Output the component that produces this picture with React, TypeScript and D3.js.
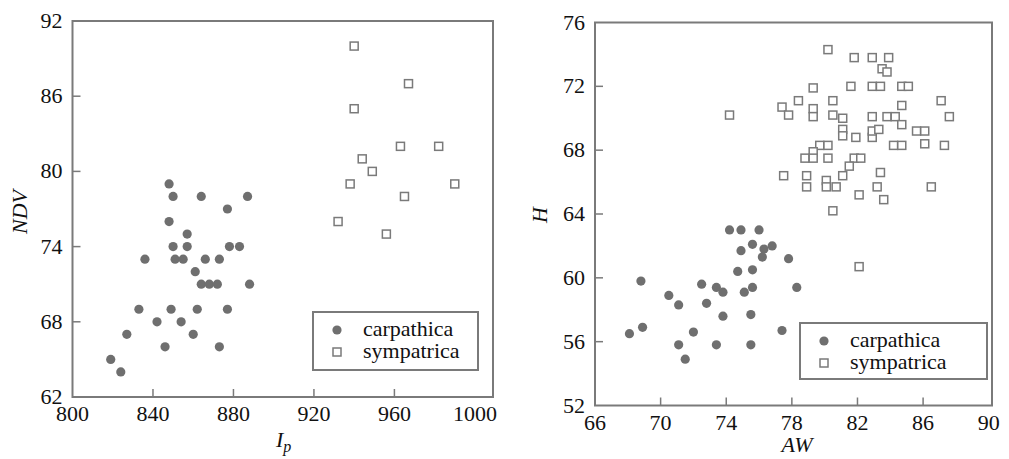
import React from 'react';
import * as d3 from 'd3';

// left panel: Ip vs NDV
const carpIp = [848, 850, 864, 887, 877, 848, 857, 850, 857, 878, 883, 836, 851, 855, 866, 873, 861, 864, 868, 872, 888, 833, 849, 862, 877, 842, 854, 827, 860, 846, 873, 819, 824];
const carpNDV = [79, 78, 78, 78, 77, 76, 75, 74, 74, 74, 74, 73, 73, 73, 73, 73, 72, 71, 71, 71, 71, 69, 69, 69, 69, 68, 68, 67, 67, 66, 66, 65, 64];
const sympIp = [940, 967, 940, 963, 982, 944, 949, 938, 990, 965, 932, 956];
const sympNDV = [90, 87, 85, 82, 82, 81, 80, 79, 79, 78, 76, 75];

// right panel: AW vs H
const carpAW = [74.2, 74.9, 76.0, 75.6, 76.8, 76.3, 74.9, 76.2, 77.8, 74.7, 75.6, 68.8, 70.5, 72.5, 73.4, 73.8, 75.1, 75.6, 78.3, 71.1, 72.8, 73.8, 75.5, 68.1, 68.9, 72.0, 77.4, 71.1, 73.4, 75.5, 71.5];
const carpH = [63.0, 63.0, 63.0, 62.1, 62.0, 61.8, 61.7, 61.3, 61.2, 60.4, 60.5, 59.8, 58.9, 59.6, 59.4, 59.1, 59.1, 59.4, 59.4, 58.3, 58.4, 57.6, 57.7, 56.5, 56.9, 56.6, 56.7, 55.8, 55.8, 55.8, 54.9];
const sympAW = [80.2, 81.8, 82.9, 83.9, 83.5, 83.8, 79.3, 81.6, 82.9, 83.4, 84.7, 85.1, 78.4, 80.5, 87.1, 77.4, 77.8, 74.2, 79.3, 79.3, 80.5, 81.1, 82.9, 83.8, 84.3, 84.7, 84.7, 87.6, 81.1, 81.1, 81.9, 82.9, 82.9, 83.3, 85.6, 86.1, 79.7, 80.2, 84.2, 84.7, 86.1, 87.3, 79.3, 78.8, 79.3, 80.2, 81.8, 82.2, 81.5, 81.1, 77.5, 78.9, 78.9, 80.1, 80.1, 80.7, 83.4, 83.2, 86.5, 82.1, 83.6, 80.5, 82.1];
const sympH = [74.3, 73.8, 73.8, 73.8, 73.1, 72.9, 71.9, 72.0, 72.0, 72.0, 72.0, 72.0, 71.1, 71.1, 71.1, 70.7, 70.2, 70.2, 70.6, 70.1, 70.2, 70.0, 70.1, 70.1, 70.1, 70.8, 69.6, 70.1, 69.3, 68.9, 68.8, 68.8, 69.2, 69.3, 69.2, 69.2, 68.3, 68.3, 68.3, 68.3, 68.4, 68.3, 67.9, 67.5, 67.5, 67.5, 67.5, 67.5, 67.0, 66.4, 66.4, 66.4, 65.7, 66.1, 65.7, 65.7, 66.6, 65.7, 65.7, 65.2, 64.9, 64.2, 60.7];

const ipTicks = [800, 840, 880, 920, 960, 1000];
const ndvTicks = [62, 68, 74, 80, 86, 92];
const awTicks = [66, 70, 74, 78, 82, 86, 90];
const hTicks = [52, 56, 60, 64, 68, 72, 76];
const legendLabels = ['carpathica', 'sympatrica'];

const FONT = "Liberation Serif, DejaVu Serif, serif";
const GRAY = '#7a7a7a';
const DOT = '#6f6f6f';

type PanelProps = {
  left: number; right: number; top: number; bottom: number;
  xDomain: [number, number]; yDomain: [number, number];
  xTicks: number[]; yTicks: number[];
  cx: number[]; cy: number[]; sx: number[]; sy: number[];
  legend: { x: number; y: number; w: number; h: number };
};

const Panel = (p: PanelProps) => {
  const x = d3.scaleLinear().domain(p.xDomain).range([p.left, p.right]);
  const y = d3.scaleLinear().domain(p.yDomain).range([p.bottom, p.top]);
  const L = p.legend;
  const ry = [L.y + 18, L.y + 40];
  return (
    <g>
      <rect x={p.left} y={p.top} width={p.right - p.left} height={p.bottom - p.top}
        fill="none" stroke={GRAY} strokeWidth={2} />
      {/* inward ticks */}
      {p.xTicks.slice(1, -1).map(t => (
        <line key={'xt' + t} x1={x(t)} x2={x(t)} y1={p.bottom} y2={p.bottom - 8} stroke={GRAY} strokeWidth={1.5} />
      ))}
      {p.yTicks.slice(1, -1).map(t => (
        <line key={'yt' + t} x1={p.left} x2={p.left + 8} y1={y(t)} y2={y(t)} stroke={GRAY} strokeWidth={1.5} />
      ))}
      {p.xTicks.map(t => (
        <text key={'xl' + t} x={x(t)} y={p.bottom + 24} textAnchor="middle" fontFamily={FONT} fontSize={22} fill="#111">{t}</text>
      ))}
      {p.yTicks.map(t => (
        <text key={'yl' + t} x={p.left - 10} y={y(t) + 7} textAnchor="end" fontFamily={FONT} fontSize={22} fill="#111">{t}</text>
      ))}
      {p.cx.map((v, i) => (
        <circle key={'c' + i} cx={x(v)} cy={y(p.cy[i])} r={4.6} fill={DOT} />
      ))}
      {p.sx.map((v, i) => (
        <rect key={'s' + i} x={x(v) - 4} y={y(p.sy[i]) - 4} width={8} height={8}
          fill="white" stroke={GRAY} strokeWidth={1.5} />
      ))}
      {/* legend */}
      <rect x={L.x} y={L.y} width={L.w} height={L.h} fill="white" stroke={GRAY} strokeWidth={2} />
      <circle cx={L.x + 24} cy={ry[0]} r={4.6} fill={DOT} />
      <rect x={L.x + 20} y={ry[1] - 4} width={8} height={8} fill="white" stroke={GRAY} strokeWidth={1.5} />
      {legendLabels.map((d, i) => (
        <text key={d} x={L.x + 50} y={ry[i] + 6}
          fontFamily={FONT} fontSize={22} fontStyle="normal" fontWeight={400} fill="#111">{d}</text>
      ))}
    </g>
  );
};

const App = () => (
  <svg width={1009} height={459} style={{ position: 'absolute', left: 0, top: 0, background: 'white' }}>
    <Panel left={72.5} right={493} top={21} bottom={397}
      xDomain={[800, 1009]} yDomain={[62, 92]} xTicks={ipTicks} yTicks={ndvTicks}
      cx={carpIp} cy={carpNDV} sx={sympIp} sy={sympNDV}
      legend={{ x: 313, y: 312, w: 165, h: 58 }} />
    <Panel left={595} right={992} top={22.5} bottom={405.5}
      xDomain={[66, 90.2]} yDomain={[52, 76]} xTicks={awTicks} yTicks={hTicks}
      cx={carpAW} cy={carpH} sx={sympAW} sy={sympH}
      legend={{ x: 800, y: 323, w: 187, h: 56 }} />
    {/* axis titles */}
    <text transform="translate(27,212) rotate(-90)" textAnchor="middle"
      fontFamily={FONT} fontSize={22} fontStyle="italic" fill="#111">NDV</text>
    <text x={276} y={447} fontFamily={FONT} fontSize={22} fontStyle="italic" fill="#111">
      I<tspan dy={5} fontSize={16}>p</tspan>
    </text>
    <text transform="translate(547,215) rotate(-90)" textAnchor="middle"
      fontFamily={FONT} fontSize={22} fontStyle="italic" fill="#111">H</text>
    <text x={797} y={452} textAnchor="middle" fontFamily={FONT} fontSize={22} fontStyle="italic" fill="#111">AW</text>
  </svg>
);

export default App;
